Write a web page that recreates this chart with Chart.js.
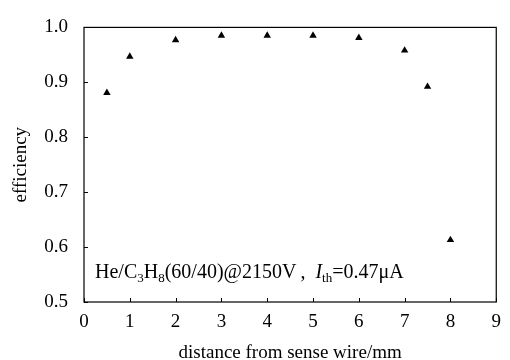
<!DOCTYPE html>
<html><head><meta charset="utf-8">
<script src="https://cdn.jsdelivr.net/npm/chart.js@4"></script>
<style>html,body{margin:0;padding:0;background:#fff}#wrap{width:510px;height:360px}</style>
</head><body><div id="wrap"><canvas id="c" width="510" height="360"></canvas></div>
<script>
const distances = [0.5, 1, 2, 3, 4, 5, 6, 7, 7.5, 8];
const efficiency = [0.881, 0.947, 0.977, 0.985, 0.985, 0.985, 0.981, 0.958, 0.892, 0.613];
const xTicks = [0, 1, 2, 3, 4, 5, 6, 7, 8, 9];
const yTicks = [0.5, 0.6, 0.7, 0.8, 0.9, 1.0];
const xTitle = 'distance from sense wire/mm';
const yTitle = 'efficiency';
const FONT = '"Liberation Serif", "Times New Roman", serif';

const boxPlugin = {
  id: 'box',
  afterDraw(chart) {
    const {ctx, chartArea: a, scales: {x, y}} = chart;
    ctx.save();
    ctx.strokeStyle = '#000';
    ctx.lineWidth = 1.2;
    ctx.strokeRect(a.left, a.top, a.right - a.left, a.bottom - a.top);
    ctx.lineWidth = 1;
    ctx.beginPath();
    xTicks.forEach(v => { const px = Math.round(x.getPixelForValue(v)) + 0.5; ctx.moveTo(px, a.bottom); ctx.lineTo(px, a.bottom - 4); });
    yTicks.forEach(v => { const py = Math.round(y.getPixelForValue(v)) + 0.5; ctx.moveTo(a.left, py); ctx.lineTo(a.left + 4, py); });
    ctx.stroke();
    // annotation
    const parts = [
      ['He/C', 'normal'], ['3', 'sub'], ['H', 'normal'], ['8', 'sub'],
      ['(60/40)@2150V\u2009,\u2002', 'normal'], ['I', 'italic'], ['th', 'sub'], ['=0.47\u03bcA', 'normal']
    ];
    let cx = a.left + 11;
    const base = 278;
    ctx.fillStyle = '#000';
    ctx.textBaseline = 'alphabetic';
    ctx.textAlign = 'left';
    parts.forEach(([t, s]) => {
      if (s === 'sub') { ctx.font = '13px ' + FONT; ctx.fillText(t, cx, base + 4); }
      else if (s === 'italic') { ctx.font = 'italic 20px ' + FONT; ctx.fillText(t, cx, base); }
      else { ctx.font = '20px ' + FONT; ctx.fillText(t, cx, base); }
      cx += ctx.measureText(t).width;
    });
    ctx.restore();
  }
};

new Chart(document.getElementById('c'), {
  type: 'scatter',
  data: {
    datasets: [{
      data: distances.map((d, i) => ({x: d, y: efficiency[i]})),
      pointStyle: 'triangle',
      pointRadius: 4.3,
      pointHoverRadius: 4.3,
      backgroundColor: '#000',
      borderColor: '#000',
      borderWidth: 0
    }]
  },
  options: {
    responsive: false,
    animation: false,
    devicePixelRatio: 1,
    layout: {padding: {top: 20, right: 7, left: 0, bottom: 0}},
    plugins: {legend: {display: false}, tooltip: {enabled: false}},
    scales: {
      x: {
        type: 'linear', min: 0, max: 9,
        afterBuildTicks(s) { s.ticks = xTicks.map(v => ({value: v})); },
        afterFit(s) { s.height = 58; },
        grid: {display: false, drawTicks: false},
        border: {display: false},
        ticks: {color: '#000', font: {family: FONT, size: 19}, padding: 9, maxRotation: 0, autoSkip: false},
        title: {display: true, text: xTitle, color: '#000', font: {family: FONT, size: 19}, padding: {top: 0, bottom: -4}}
      },
      y: {
        type: 'linear', min: 0.5, max: 1.0,
        afterBuildTicks(s) { s.ticks = yTicks.map(v => ({value: v})); },
        afterFit(s) { s.width = 84; },
        grid: {display: false, drawTicks: false},
        border: {display: false},
        ticks: {color: '#000', font: {family: FONT, size: 19}, padding: 16, autoSkip: false,
                callback: v => v.toFixed(1)},
        title: {display: true, text: yTitle, color: '#000', font: {family: FONT, size: 19}, padding: {top: 10, bottom: 0}}
      }
    }
  },
  plugins: [boxPlugin]
});
</script>
</body></html>
